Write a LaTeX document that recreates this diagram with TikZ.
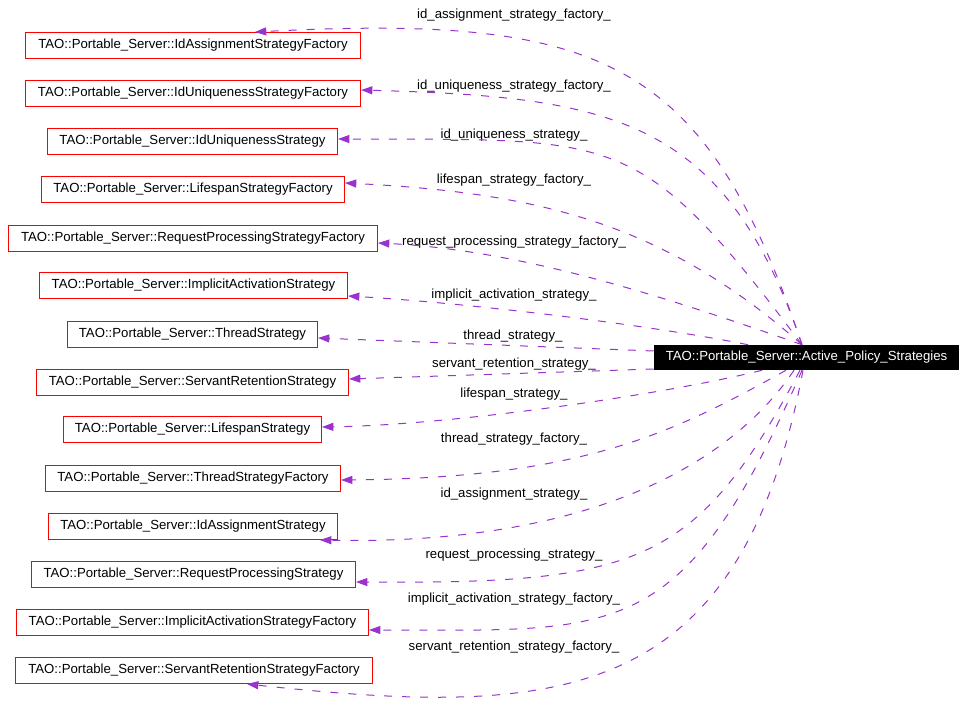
\documentclass[tikz,border=0pt]{standalone}
\usepackage{fontspec}
\setmainfont{Liberation Sans}
\usetikzlibrary{arrows.meta}
\definecolor{edgecol}{HTML}{9A32CD}
\begin{document}
\begin{tikzpicture}[x=0.75pt,y=-0.75pt,
  txt/.style={font=\fontsize{9.9}{12}\selectfont},
  cls/.style={txt, draw=red, line width=0.75pt, minimum height=19.5pt, inner sep=0pt},
  mainbox/.style={txt, fill=black, text=white, minimum height=18.75pt, minimum width=228.75pt, inner sep=0pt},
  lbl/.style={txt, inner sep=0pt},
  uses/.style={draw=edgecol, line width=0.75pt, dash pattern=on 6pt off 7.5pt, -{Triangle[length=8.5pt,width=6pt]}}]
\useasboundingbox (0,0) rectangle (965,727);

% main node
\node[mainbox] (m) at (806.5,357.5) {TAO::Portable\_Server::Active\_Policy\_Strategies};

% target classes
\node[cls, minimum width=251.25pt] (b1)  at (193,45.5)    {TAO::Portable\_Server::IdAssignmentStrategyFactory};
\node[cls, minimum width=251.25pt] (b2)  at (193,93.5)    {TAO::Portable\_Server::IdUniquenessStrategyFactory};
\node[cls, minimum width=217.5pt]  (b3)  at (192.5,141.5) {TAO::Portable\_Server::IdUniquenessStrategy};
\node[cls, minimum width=227.25pt] (b4)  at (193,189.5)   {TAO::Portable\_Server::LifespanStrategyFactory};
\node[cls, minimum width=276.75pt] (b5)  at (193,238.5)   {TAO::Portable\_Server::RequestProcessingStrategyFactory};
\node[cls, minimum width=231pt]    (b6)  at (193.5,285.5) {TAO::Portable\_Server::ImplicitActivationStrategy};
\node[cls, minimum width=187.5pt]  (b7)  at (192.5,334.5) {TAO::Portable\_Server::ThreadStrategy};
\node[cls, minimum width=234pt]    (b8)  at (192.5,382.5) {TAO::Portable\_Server::ServantRetentionStrategy};
\node[cls, minimum width=193.5pt]  (b9)  at (192.5,429.5) {TAO::Portable\_Server::LifespanStrategy};
\node[cls, minimum width=221.25pt] (b10) at (193,478.5)   {TAO::Portable\_Server::ThreadStrategyFactory};
\node[cls, minimum width=216.75pt] (b11) at (193,526.5)   {TAO::Portable\_Server::IdAssignmentStrategy};
\node[cls, minimum width=243pt]    (b12) at (193.5,574.5) {TAO::Portable\_Server::RequestProcessingStrategy};
\node[cls, minimum width=264pt]    (b13) at (192.5,622.5) {TAO::Portable\_Server::ImplicitActivationStrategyFactory};
\node[cls, minimum width=267.75pt] (b14) at (194,670.5)   {TAO::Portable\_Server::ServantRetentionStrategyFactory};

% edge labels
\node[lbl] (l1)  at (514,15)  {id\_assignment\_strategy\_factory\_};
\node[lbl] (l2)  at (514,86)  {id\_uniqueness\_strategy\_factory\_};
\node[lbl] (l3)  at (514,135) {id\_uniqueness\_strategy\_};
\node[lbl] (l4)  at (514,180) {lifespan\_strategy\_factory\_};
\node[lbl] (l5)  at (514,242) {request\_processing\_strategy\_factory\_};
\node[lbl] (l6)  at (514,295) {implicit\_activation\_strategy\_};
\node[lbl] (l7)  at (513,336) {thread\_strategy\_};
\node[lbl] (l8)  at (514,364) {servant\_retention\_strategy\_};
\node[lbl] (l9)  at (514,394) {lifespan\_strategy\_};
\node[lbl] (l10) at (514,439) {thread\_strategy\_factory\_};
\node[lbl] (l11) at (514,494) {id\_assignment\_strategy\_};
\node[lbl] (l12) at (514,555) {request\_processing\_strategy\_};
\node[lbl] (l13) at (514,599) {implicit\_activation\_strategy\_factory\_};
\node[lbl] (l14) at (514,647) {servant\_retention\_strategy\_factory\_};

% edges
\draw[uses] (m.north -| 802,0) .. controls (706,60) and (605,14) .. (b1.north -| 255,0);
\draw[uses] (m.north -| 802,0) .. controls (725,117) and (611,97) .. (b2.east |- 0,90);
\draw[uses] (m.north -| 802,0) .. controls (639,128) and (621,140) .. (b3.east |- 0,139);
\draw[uses] (m.north -| 802,0) .. controls (667,226) and (545,193) .. (b4.east |- 0,183);
\draw[uses] (m.north -| 802,0) .. controls (660,295) and (520,250) .. (b5.east |- 0,243);
\draw[uses] (m.north -| 748,0) .. controls (650,325) and (468,303) .. (b6.east |- 0,296);
\draw[uses] (m.west |- 0,351) -- (b7.east |- 0,338);
\draw[uses] (m.west |- 0,369) -- (b8.east |- 0,379);
\draw[uses] (m.south -| 762,0) .. controls (662,395) and (452,425) .. (b9.east |- 0,427);
\draw[uses] (m.south -| 786,0) .. controls (676,431) and (587,478) .. (b10.east |- 0,480);
\draw[uses] (m.south -| 794,0) .. controls (720,480) and (560,545) .. (b11.south -| 320,0);
\draw[uses] (m.south -| 800,0) .. controls (697,564) and (640,584) .. (b12.east |- 0,582);
\draw[uses] (m.south -| 802,0) .. controls (682,646) and (619,630) .. (b13.east |- 0,630);
\draw[uses] (m.south -| 803,0) .. controls (740,705) and (560,718) .. (b14.south -| 247,0);
\end{tikzpicture}
\end{document}
